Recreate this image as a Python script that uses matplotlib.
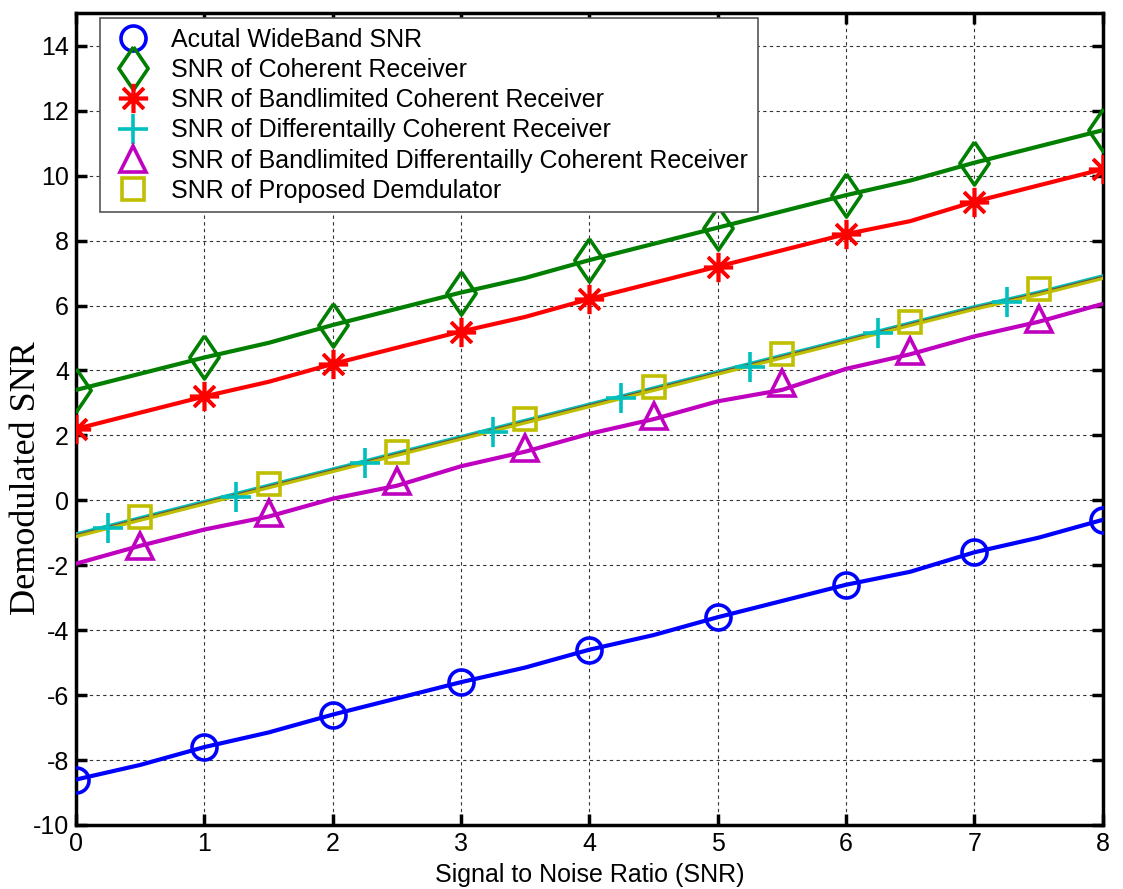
import matplotlib
matplotlib.use("Agg")
import matplotlib.pyplot as plt
from matplotlib.lines import Line2D

# ---- data ----
x_line = [0, 0.5, 1, 1.5, 2, 2.5, 3, 3.5, 4, 4.5, 5, 5.5, 6, 6.5, 7, 7.5, 8]
wideband_line = [-8.6, -8.15, -7.6, -7.15, -6.6, -6.1, -5.6, -5.15, -4.6, -4.15, -3.6, -3.1, -2.6, -2.2, -1.6, -1.15, -0.6]
coherent_line = [3.4, 3.9, 4.4, 4.85, 5.4, 5.9, 6.4, 6.85, 7.4, 7.9, 8.4, 8.9, 9.4, 9.85, 10.4, 10.9, 11.4]
bl_coherent_line = [2.2, 2.7, 3.2, 3.65, 4.2, 4.7, 5.2, 5.65, 6.2, 6.7, 7.2, 7.7, 8.2, 8.6, 9.2, 9.7, 10.2]
diff_line = [-1.05, -0.55, -0.05, 0.45, 0.95, 1.45, 1.95, 2.45, 2.95, 3.45, 3.95, 4.45, 4.95, 5.45, 5.95, 6.4, 6.9]
bl_diff_line = [-1.95, -1.4, -0.9, -0.5, 0.05, 0.45, 1.05, 1.5, 2.05, 2.5, 3.05, 3.4, 4.05, 4.5, 5.05, 5.5, 6.05]
proposed_line = [-1.1, -0.6, -0.1, 0.4, 0.9, 1.4, 1.9, 2.4, 2.9, 3.4, 3.9, 4.4, 4.9, 5.4, 5.9, 6.35, 6.85]

x_int = [0, 1, 2, 3, 4, 5, 6, 7, 8]
wideband_mk = [-8.6, -7.6, -6.6, -5.6, -4.6, -3.6, -2.6, -1.6, -0.6]
coherent_mk = [3.4, 4.4, 5.4, 6.4, 7.4, 8.4, 9.4, 10.4, 11.4]
bl_coherent_mk = [2.2, 3.2, 4.2, 5.2, 6.2, 7.2, 8.2, 9.2, 10.2]
x_quarter = [0.25, 1.25, 2.25, 3.25, 4.25, 5.25, 6.25, 7.25]
diff_mk = [-0.85, 0.1, 1.15, 2.1, 3.15, 4.1, 5.15, 6.1]
x_half = [0.5, 1.5, 2.5, 3.5, 4.5, 5.5, 6.5, 7.5]
bl_diff_mk = [-1.4, -0.4, 0.6, 1.6, 2.6, 3.6, 4.6, 5.6]
proposed_mk = [-0.5, 0.5, 1.5, 2.5, 3.5, 4.5, 5.5, 6.5]

labels = ["Acutal WideBand SNR",
          "SNR of Coherent Receiver",
          "SNR of Bandlimited Coherent Receiver",
          "SNR of Differentailly Coherent Receiver",
          "SNR of Bandlimited Differentailly Coherent Receiver",
          "SNR of Proposed Demdulator"]
xticks = [0, 1, 2, 3, 4, 5, 6, 7, 8]
yticks = [-10, -8, -6, -4, -2, 0, 2, 4, 6, 8, 10, 12, 14]

plt.rcParams['font.family'] = ['Liberation Sans', 'DejaVu Sans']
plt.rcParams['axes.unicode_minus'] = False

fig = plt.figure(figsize=(11.23, 8.89), dpi=100)
ax = fig.add_axes([0.0677, 0.072, 0.9143, 0.913])

blue, green, red = '#0000ff', '#007f00', '#ff0000'
cyan, magenta, yellow = '#00bfbf', '#bf00bf', '#bfbf00'
lw = 3.0
mew = 2.6

ax.plot(x_line, wideband_line, color=blue, lw=lw, zorder=3)
ax.plot(x_line, coherent_line, color=green, lw=lw, zorder=3)
ax.plot(x_line, bl_coherent_line, color=red, lw=lw, zorder=3)
ax.plot(x_line, diff_line, color=cyan, lw=lw, zorder=3)
ax.plot(x_line, bl_diff_line, color=magenta, lw=lw, zorder=3)
ax.plot(x_line, proposed_line, color=yellow, lw=lw, zorder=3)
ax.plot(x_line, diff_line, color='#555555', lw=0.8, zorder=3)

star = (8, 2, 0)
diamond = [(0, 1), (0.68, 0), (0, -1), (-0.68, 0), (0, 1)]
mk_specs = [
    (x_int, wideband_mk, 'o', blue, 18),
    (x_int, coherent_mk, diamond, green, 31),
    (x_int, bl_coherent_mk, star, red, 21),
    (x_quarter, diff_mk, '+', cyan, 22),
    (x_half, bl_diff_mk, '^', magenta, 19),
    (x_half, proposed_mk, 's', yellow, 16),
]
handles = []
for xs, ys, m, c, ms in mk_specs:
    ax.plot(xs, ys, linestyle='none', marker=m, markersize=ms,
            markerfacecolor='none', markeredgecolor=c, markeredgewidth=mew, zorder=4)
    handles.append(Line2D([], [], linestyle='none', marker=m, markersize=ms,
                          markerfacecolor='none', markeredgecolor=c, markeredgewidth=mew))

ax.set_xlim(0, 8)
ax.set_ylim(-10, 15)
ax.set_xticks(xticks)
ax.set_yticks(yticks)
ax.tick_params(direction='in', length=8, width=2.5, labelsize=18, top=True, right=True,
               pad=5)
for s in ax.spines.values():
    s.set_linewidth(2.5)
ax.grid(True, color='#333333', linestyle=(0, (3, 3)), linewidth=0.8)
ax.set_axisbelow(True)

ax.set_xlabel("Signal to Noise Ratio (SNR)", fontsize=18, labelpad=5)
ax.set_ylabel("Demodulated SNR", fontsize=26, family=['Liberation Serif', 'DejaVu Serif'])
ax.yaxis.set_label_coords(-0.032, 0.427)

leg = ax.legend(handles, labels, loc='upper left', bbox_to_anchor=(0.023, 0.994),
                borderaxespad=0, fontsize=18, labelspacing=0.25, handlelength=1.9,
                handletextpad=0.58, borderpad=0.38, fancybox=False, framealpha=1,
                edgecolor='#555555')
leg.get_frame().set_linewidth(1.2)
leg.set_zorder(5)

fig.savefig("out.png", dpi=100)
